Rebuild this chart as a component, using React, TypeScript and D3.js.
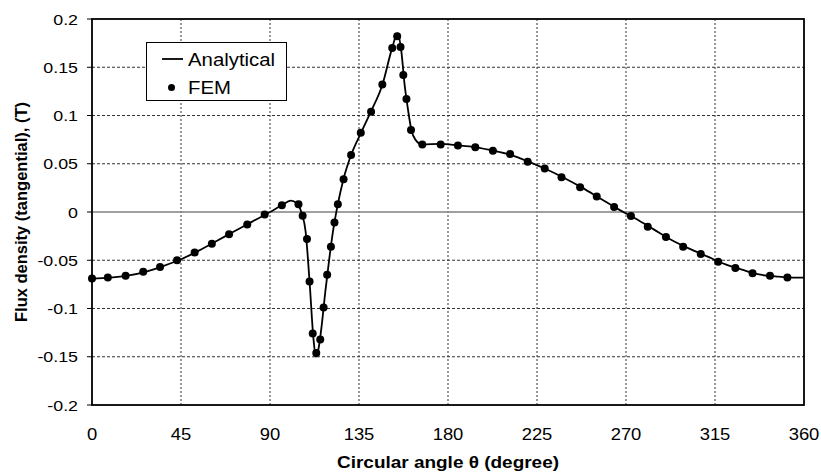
import React from "react";
import * as d3 from "d3";

const femAngle = [0, 8.0, 17.0, 25.9, 34.4, 43.0, 51.9, 60.6, 69.3, 78.5, 87.3, 96.0, 104.4, 106.5, 108.7, 110.0, 111.6, 113.4, 115.4, 117.1, 118.9, 120.8, 122.6, 124.3, 127.2, 131.0, 135.9, 141.1, 146.8, 151.8, 154.3, 156.0, 157.4, 159.0, 161.3, 167.0, 176.3, 185.0, 193.8, 202.7, 211.4, 220.3, 228.9, 237.4, 246.8, 255.2, 264.0, 272.5, 281.0, 290.2, 298.9, 307.8, 316.6, 325.3, 334.0, 342.8, 351.6];
const femValue = [-0.069, -0.068, -0.066, -0.062, -0.057, -0.05, -0.042, -0.033, -0.023, -0.013, -0.0025, 0.007, 0.008, -0.004, -0.028, -0.072, -0.126, -0.146, -0.132, -0.099, -0.065, -0.036, -0.011, 0.008, 0.034, 0.059, 0.082, 0.104, 0.132, 0.17, 0.182, 0.171, 0.142, 0.117, 0.085, 0.07, 0.07, 0.069, 0.067, 0.0635, 0.06, 0.052, 0.045, 0.036, 0.0256, 0.016, 0.0052, -0.0041, -0.0152, -0.026, -0.036, -0.0435, -0.0515, -0.058, -0.0635, -0.066, -0.068];

const anaAngle = [0, 9, 18, 27, 36, 45, 54, 63, 72, 81, 90, 96, 100.5, 103.5, 106, 108, 110, 112, 113.2, 114.5, 116, 118, 120, 122, 124, 127, 131, 136, 141, 147, 151.5, 154.5, 156.5, 158, 159.5, 161.5, 163.5, 167, 176, 185, 194, 203, 212, 221, 230, 239, 248, 257, 266, 275, 284, 293, 302, 311, 320, 329, 338, 347, 356, 360];
const anaValue = [-0.069, -0.068, -0.066, -0.062, -0.056, -0.049, -0.04, -0.03, -0.02, -0.01, 0.0, 0.007, 0.0117, 0.009, -0.001, -0.02, -0.072, -0.132, -0.15, -0.142, -0.12, -0.082, -0.048, -0.018, 0.005, 0.033, 0.059, 0.082, 0.104, 0.133, 0.168, 0.185, 0.165, 0.133, 0.11, 0.085, 0.075, 0.07, 0.0705, 0.069, 0.067, 0.0635, 0.059, 0.052, 0.044, 0.035, 0.025, 0.014, 0.003, -0.007, -0.018, -0.029, -0.038, -0.046, -0.054, -0.06, -0.065, -0.067, -0.068, -0.068];

const xTicks = [0, 45, 90, 135, 180, 225, 270, 315, 360];
const yTicks = [-0.2, -0.15, -0.1, -0.05, 0, 0.05, 0.1, 0.15, 0.2];
const xTitle = "Circular angle θ (degree)";
const yTitle = "Flux density (tangential), (T)";
const legendLabels = ["Analytical", "FEM"];

const W = 821, H = 473;
const L = 92, R = 804, T = 19, B = 405;
const font = "Liberation Sans, Arial, sans-serif";
const SX = 1.15;

export default function App() {
  const x = d3.scaleLinear().domain([0, 360]).range([L, R]);
  const y = d3.scaleLinear().domain([-0.2, 0.2]).range([B, T]);
  const line = d3
    .line<number>()
    .x((_, i) => x(anaAngle[i]))
    .y((d) => y(d))
    .curve(d3.curveMonotoneX);
  const fmtY = (v: number) => (v === 0 ? "0" : String(+v.toFixed(2)));

  return (
    <svg width={W} height={H} style={{ position: "absolute", left: 0, top: 0, background: "#fff" }}>
      <rect x={0} y={0} width={W} height={H} fill="#fff" />
      {/* gridlines */}
      {xTicks.filter((t) => t > 0 && t < 360).map((t) => (
        <line key={"gx" + t} x1={x(t)} x2={x(t)} y1={T} y2={B} stroke="#333" strokeWidth={1} strokeDasharray="2,2" />
      ))}
      {yTicks.filter((t) => t > -0.2 && t < 0.2 && t !== 0).map((t) => (
        <line key={"gy" + t} x1={L} x2={R} y1={y(t)} y2={y(t)} stroke="#333" strokeWidth={1} strokeDasharray="3,2" />
      ))}
      <line x1={L} x2={R} y1={y(0)} y2={y(0)} stroke="#808080" strokeWidth={1.3} />
      {/* frame */}
      <rect x={L} y={T} width={R - L} height={B - T} fill="none" stroke="#000" strokeWidth={1.8} />
      {/* y ticks */}
      {yTicks.map((t) => (
        <g key={"ty" + t}>
          <line x1={L - 5} x2={L} y1={y(t)} y2={y(t)} stroke="#000" strokeWidth={1} />
          <text transform={`translate(78,${y(t) + 5.5}) scale(${SX},1)`} textAnchor="end" fontFamily={font} fontSize={15.5} fill="#000">
            {fmtY(t)}
          </text>
        </g>
      ))}
      {xTicks.map((t) => (
        <text key={"tx" + t} transform={`translate(${x(t)},440) scale(${SX},1)`} textAnchor="middle" fontFamily={font} fontSize={16} fill="#000">
          {t}
        </text>
      ))}
      {/* titles */}
      <text transform={`translate(${(L + R) / 2},468) scale(${SX},1)`} textAnchor="middle" fontFamily={font} fontSize={16.5} fontWeight="bold" fill="#000">
        {xTitle}
      </text>
      <text transform={`translate(27,${(T + B) / 2}) rotate(-90)`} textAnchor="middle" fontFamily={font} fontSize={16.5} fontWeight="bold" fill="#000">
        {yTitle}
      </text>
      {/* data */}
      <path d={line(anaValue) || ""} fill="none" stroke="#000" strokeWidth={1.8} />
      {femValue.map((v, i) => (
        <circle key={"p" + i} cx={x(femAngle[i])} cy={y(v)} r={4} fill="#000" />
      ))}
      {/* legend */}
      <rect x={146.5} y={42.5} width={140} height={58} fill="#fff" stroke="#000" strokeWidth={1} />
      <line x1={162} x2={183} y1={59} y2={59} stroke="#000" strokeWidth={1.8} />
      <text transform={`translate(188,65.5) scale(1.1,1)`} fontFamily={font} fontSize={18.5} fill="#000">{legendLabels[0]}</text>
      <circle cx={171.5} cy={87.5} r={3.5} fill="#000" />
      <text transform={`translate(188,94) scale(1.1,1)`} fontFamily={font} fontSize={18.5} fill="#000">{legendLabels[1]}</text>
    </svg>
  );
}
